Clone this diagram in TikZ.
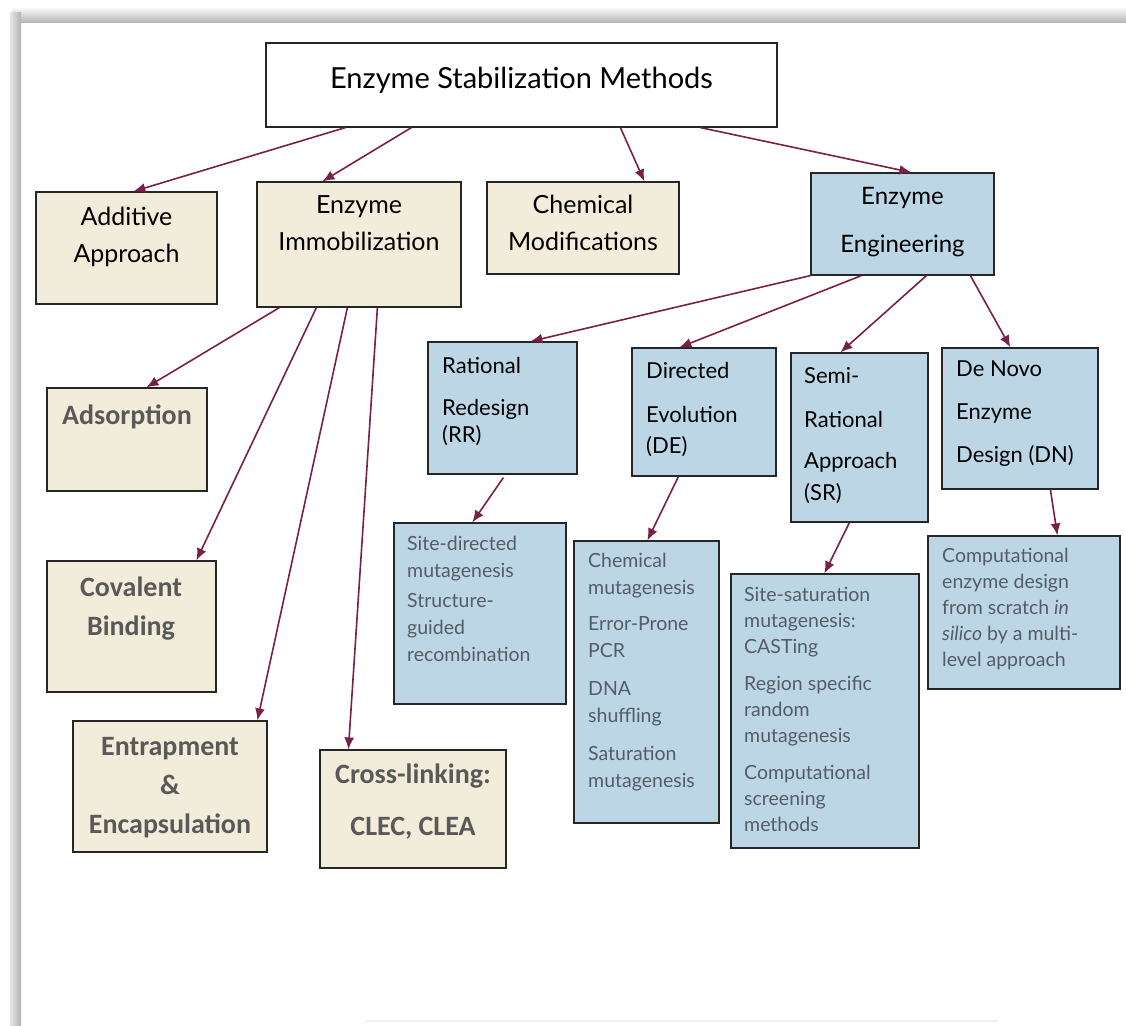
\documentclass[tikz,border=0pt]{standalone}
\usepackage{fontspec}
\setmainfont{Lato}
\newfontfamily\califont{Carlito}
\usetikzlibrary{arrows.meta, calc}

\definecolor{tanfill}{RGB}{242,236,218}
\definecolor{bluefill}{RGB}{188,214,230}
\definecolor{linkred}{RGB}{122,32,72}
\definecolor{listgray}{RGB}{84,92,102}
\definecolor{boldgray}{RGB}{89,89,89}

\begin{document}
\begin{tikzpicture}[%
        x = 1pt, y = -1pt,
        box/.style = {%
            draw = black!85, line width = 1.2pt, inner sep = 0pt
        },
        tanbox/.style = {box, fill = tanfill},
        bluebox/.style = {box, fill = bluefill},
        headtext/.style = {inner sep = 0pt, align = center, anchor = north},
        sidetext/.style = {%
            inner sep = 0pt, align = left, anchor = north west,
            font = \fontsize{22}{27}\selectfont
        },
        listtext/.style = {%
            inner sep = 0pt, align = left, anchor = north west,
            text = listgray, font = \fontsize{19.5}{27}\selectfont
        },
        graytext/.style = {%
            inner sep = 0pt, align = center, anchor = north,
            text = boldgray, font = \califont\bfseries\fontsize{28}{39}\selectfont
        },
        link/.style = {%
            draw = linkred, line width = 1.6pt,
            -{Latex[length = 12pt, width = 10pt]}
        }
    ]

        \useasboundingbox (0, 0) rectangle (1126, 1025);

        % Slide frame along the top and the left side.
        \shade[top color = gray!10, bottom color = gray!60] (12, 9) rectangle (1126, 23);
        \shade[left color = gray!20, right color = gray!60] (10, 13) rectangle (21, 1025);
        \draw[gray!12, line width = 1.5pt] (366, 1021) to (998, 1021);

        % Root of the tree.
        \node[box, fill = white, minimum width = 511pt, minimum height = 84pt]
            (title) at (521.5, 85) {};
        \node[headtext, font = \fontsize{29}{29}\selectfont]
            (titletext) at (521.5, 67) {Enzyme Stabilization Methods};

        % First level: the four families of methods.
        \node[tanbox, minimum width = 181pt, minimum height = 112pt] (additive) at (126.5, 248) {};
        \node[tanbox, minimum width = 204pt, minimum height = 125pt] (immob) at (359, 244.5) {};
        \node[tanbox, minimum width = 192pt, minimum height = 92pt] (chem) at (583, 228) {};
        \node[bluebox, minimum width = 183pt, minimum height = 102pt] (eng) at (902.5, 224) {};

        \node[headtext, font = \fontsize{25}{37}\selectfont]
            (additivetext) at (126.5, 206.5) {Additive\\Approach};
        \node[headtext, font = \fontsize{25}{37}\selectfont]
            (immobtext) at (359, 195) {Enzyme\\Immobilization};
        \node[headtext, font = \fontsize{25}{37}\selectfont]
            (chemtext) at (583, 194.5) {Chemical\\Modifications};
        \node[headtext, font = \fontsize{24}{48}\selectfont]
            (engtext) at (902.5, 187.5) {Enzyme\\Engineering};

        \draw[link] ($(title.south west) + (80, 0)$) to ($(additive.north west) + (98, 0)$);
        \draw[link] ($(title.south west) + (146, 0)$) to ($(immob.north west) + (66, 0)$);
        \draw[link] ($(title.south west) + (355, 0)$) to ($(chem.north west) + (158, 0)$);
        \draw[link] ($(title.south west) + (435, 0)$) to ($(eng.north west) + (101, 0)$);

        % Immobilization techniques.
        \node[tanbox, minimum width = 160pt, minimum height = 103pt] (adsorp) at (127, 439.5) {};
        \node[tanbox, minimum width = 169pt, minimum height = 131pt] (covalent) at (131.5, 626.5) {};
        \node[tanbox, minimum width = 194pt, minimum height = 131pt] (entrap) at (170, 786.5) {};
        \node[tanbox, minimum width = 186pt, minimum height = 118pt] (crosslink) at (413, 809) {};

        \node[graytext] (adsorptext) at (127, 405) {Adsorption};
        \node[graytext] (covalenttext) at (131, 577) {Covalent\\Binding};
        \node[graytext] (entraptext) at (170, 737) {Entrapment\\\&\\Encapsulation};
        \node[graytext, font = \califont\bfseries\fontsize{28}{52}\selectfont]
            (crosslinktext) at (413, 764) {Cross-linking:\\CLEC, CLEA};

        \draw[link] ($(immob.south west) + (23, 0)$) to ($(adsorp.north west) + (100, 0)$);
        \draw[link] ($(immob.south west) + (60, 0)$) to ($(covalent.north west) + (150, 0)$);
        \draw[link] ($(immob.south west) + (91, 0)$) to ($(entrap.north west) + (185, 0)$);
        \draw[link] ($(immob.south west) + (121, 0)$) to ($(crosslink.north west) + (29, 0)$);

        % Engineering strategies.
        \node[bluebox, minimum width = 149pt, minimum height = 132pt] (rr) at (502.5, 408) {};
        \node[bluebox, minimum width = 144pt, minimum height = 128pt] (de) at (704, 412) {};
        \node[bluebox, minimum width = 137pt, minimum height = 169pt] (sr) at (859.5, 437.5) {};
        \node[bluebox, minimum width = 156pt, minimum height = 141pt] (dn) at (1020, 418.5) {};

        \node[sidetext] (rrtext) at (442, 357) {Rational\\[15pt]Redesign\\(RR)};
        \node[sidetext, font = \fontsize{22}{31}\selectfont]
            (detext) at (646, 362) {Directed\\[13pt]Evolution\\(DE)};
        \node[sidetext, font = \fontsize{22}{32}\selectfont]
            (srtext) at (804, 367) {Semi-\\[12pt]Rational\\[9pt]Approach\\(SR)};
        \node[sidetext, font = \fontsize{22}{43}\selectfont]
            (dntext) at (956, 361) {De Novo\\Enzyme\\Design (DN)};

        \draw[link] (eng.south west) to ($(rr.north west) + (103, 0)$);
        \draw[link] ($(eng.south west) + (51, 0)$) to ($(de.north west) + (48, 0)$);
        \draw[link] ($(eng.south west) + (116, 0)$) to ($(sr.north west) + (50, 0)$);
        \draw[link] ($(eng.south west) + (160, 0)$) to ($(dn.north west) + (69, 0)$);

        % Techniques listed under each strategy.
        \node[bluebox, minimum width = 172pt, minimum height = 181pt] (rrlist) at (480, 613.5) {};
        \node[bluebox, minimum width = 145pt, minimum height = 282pt] (delist) at (646.5, 682) {};
        \node[bluebox, minimum width = 188pt, minimum height = 274pt] (srlist) at (825, 711) {};
        \node[bluebox, minimum width = 192pt, minimum height = 153pt] (dnlist) at (1024, 612.5) {};

        \node[listtext] (rrlisttext) at (407, 536)
            {Site-directed\\mutagenesis\\[3pt]Structure-\\guided\\recombination};
        \node[listtext] (delisttext) at (588, 553)
            {Chemical\\mutagenesis\\[9pt]Error-Prone\\PCR\\[11pt]DNA\\shuffling\\[11pt]%
             Saturation\\mutagenesis};
        \node[listtext, font = \fontsize{19.5}{26}\selectfont] (srlisttext) at (744, 587)
            {Site-saturation\\mutagenesis:\\CASTing\\[11pt]Region specific\\random\\%
             mutagenesis\\[11pt]Computational\\screening\\methods};
        \node[listtext, font = \fontsize{19.5}{26}\selectfont] (dnlisttext) at (942, 548)
            {Computational\\enzyme design\\from scratch \textit{in}\\%
             \textit{silico} by a multi-\\level approach};

        \draw[link] ($(rr.south west) + (76, 3)$) to ($(rrlist.north west) + (79, 0)$);
        \draw[link] ($(de.south west) + (47, 0)$) to ($(delist.north west) + (74, 0)$);
        \draw[link] ($(sr.south west) + (59, 0)$) to ($(srlist.north west) + (94, 0)$);
        \draw[link] ($(dn.south west) + (109, 0)$) to ($(dnlist.north west) + (130, 0)$);
    \end{tikzpicture}
\end{document}
